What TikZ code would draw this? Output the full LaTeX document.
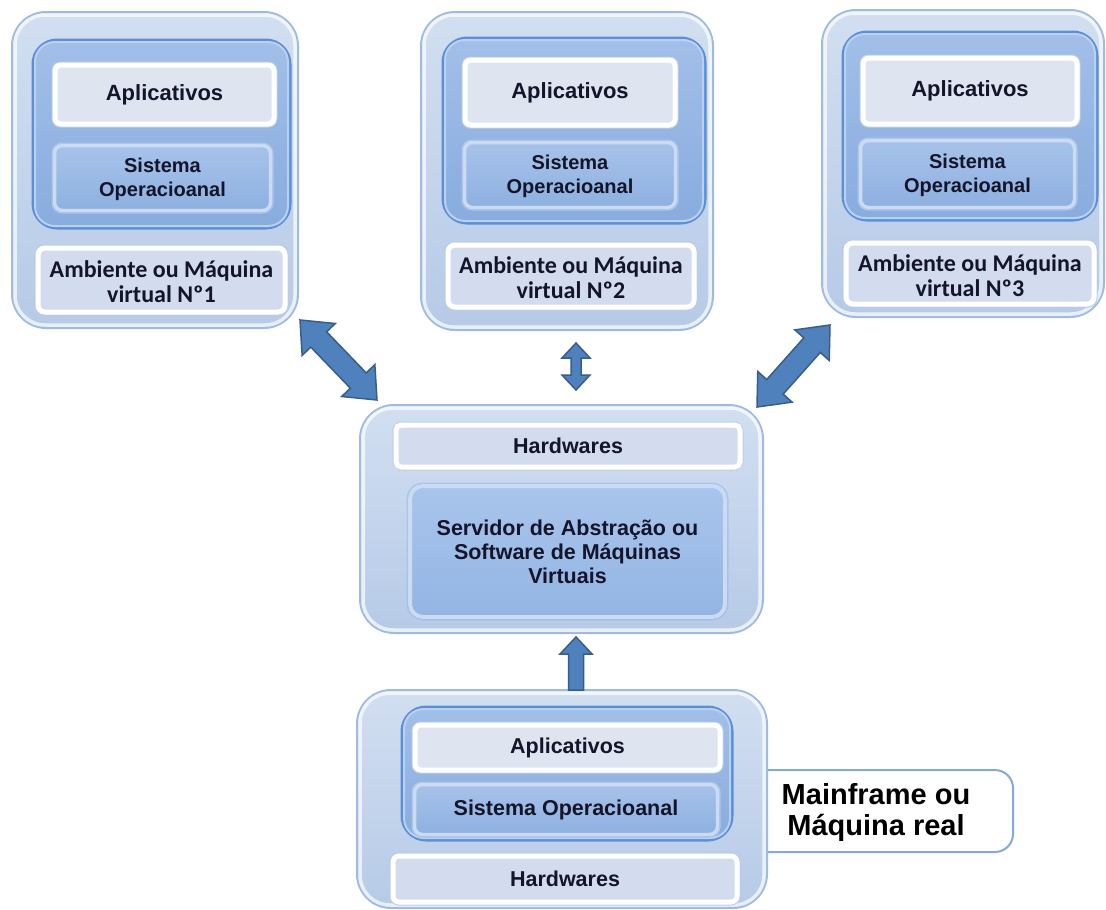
\documentclass[tikz,border=0pt]{standalone}
\usepackage{fontspec}
\setmainfont{Liberation Sans}
\newfontfamily\ambfamily{Carlito}
\usetikzlibrary{calc}

\definecolor{txt}{HTML}{14142A}
\definecolor{shelledge}{HTML}{9FBBE0}
\definecolor{shelltop}{HTML}{D2DFF1}
\definecolor{shellbot}{HTML}{B6CAE7}
\definecolor{coreedge}{HTML}{5B8FD7}
\definecolor{coretop}{HTML}{A2BFE8}
\definecolor{corebot}{HTML}{88ACDF}
\definecolor{corehi}{HTML}{B9D0F0}
\definecolor{appedge}{HTML}{B9CBE5}
\definecolor{appfill}{HTML}{DEE5F0}
\definecolor{soedge}{HTML}{AFC6EA}
\definecolor{sotop}{HTML}{A8C3EA}
\definecolor{sobot}{HTML}{8DB0E0}
\definecolor{sohi}{HTML}{CADBF2}
\definecolor{ambfill}{HTML}{D2DCEE}
\definecolor{srvtop}{HTML}{A9C5EC}
\definecolor{srvbot}{HTML}{93B5E3}
\definecolor{arrowfill}{HTML}{4F81BD}
\definecolor{arrowedge}{HTML}{385D8A}
\definecolor{calloutedge}{HTML}{86A9D9}

\newcommand\appfont{\fontsize{22}{24}\selectfont\bfseries}
\newcommand\sofont{\fontsize{20}{24}\selectfont\bfseries}
\newcommand\rowfont{\fontsize{21.5}{24}\selectfont\bfseries}
\newcommand\ambfont{\ambfamily\fontsize{24}{25}\selectfont\bfseries}
\newcommand\calloutfont{\fontsize{29}{31}\selectfont\bfseries}

% light inner rim of a rounded panel
\newcommand\rim[4]{%
  \draw[#4, rounded corners=#3]
    ([shift={(#2,#2)}]#1.north west) rectangle ([shift={(-#2,-#2)}]#1.south east);}

% block arrow with a head at both ends: from, to, shaft half width, head half width, head length
\newcommand\dblarrow[5]{%
  \filldraw[blockarrow] (#1)
    -- ($(#1)!#5!(#2)!#4!90:(#2)$) -- ($(#1)!#5!(#2)!#3!90:(#2)$)
    -- ($(#2)!#5!(#1)!#3!-90:(#1)$) -- ($(#2)!#5!(#1)!#4!-90:(#1)$)
    -- (#2)
    -- ($(#2)!#5!(#1)!#4!90:(#1)$) -- ($(#2)!#5!(#1)!#3!90:(#1)$)
    -- ($(#1)!#5!(#2)!#3!-90:(#2)$) -- ($(#1)!#5!(#2)!#4!-90:(#2)$)
    -- cycle;}

% block arrow with a single head: base, tip, shaft half width, head half width, head length
\newcommand\onearrow[5]{%
  \filldraw[blockarrow] ($(#1)!#3!90:(#2)$)
    -- ($(#2)!#5!(#1)!#3!-90:(#1)$) -- ($(#2)!#5!(#1)!#4!-90:(#1)$)
    -- (#2)
    -- ($(#2)!#5!(#1)!#4!90:(#1)$) -- ($(#2)!#5!(#1)!#3!90:(#1)$)
    -- ($(#1)!#3!-90:(#2)$) -- cycle;}

\begin{document}
\begin{tikzpicture}[x=1pt, y=-1pt,
  every node/.style={inner sep=0pt, align=center, text=txt},
  shell/.style={draw=shelledge, line width=2pt, rounded corners=34pt,
    top color=shelltop, bottom color=shellbot},
  shellrim/.style={draw=white, draw opacity=.7, line width=3.5pt},
  core/.style={draw=coreedge, line width=3pt, rounded corners=24pt,
    top color=coretop, bottom color=corebot},
  corerim/.style={draw=corehi, line width=2pt},
  app/.style={draw=appedge, line width=1pt, rounded corners=8pt, fill=appfill},
  apprim/.style={draw=white, line width=5pt},
  osbox/.style={draw=soedge, line width=1pt, rounded corners=10pt,
    top color=sotop, bottom color=sobot},
  osrim/.style={draw=sohi, line width=3.5pt},
  amb/.style={draw=appedge, line width=1pt, rounded corners=9pt, fill=ambfill},
  srv/.style={draw=soedge, line width=1pt, rounded corners=16pt,
    top color=srvtop, bottom color=srvbot},
  srvrim/.style={draw=sohi, line width=4pt},
  callout/.style={draw=calloutedge, line width=2pt, rounded corners=18pt, fill=white},
  blockarrow/.style={fill=arrowfill, draw=arrowedge, line width=1.5pt, line join=miter}
]
\useasboundingbox (0,0) rectangle (1106,910);
\fill[white] (0,0) rectangle (1106,910);

% ---------- virtual machine 1 ----------
\node[shell, minimum width=286pt, minimum height=316pt] (vm1) at (155,170) {};
\rim{vm1}{4}{30pt}{shellrim}
\node[core, minimum width=257pt, minimum height=188pt] (vm1core) at (161.5,134) {};
\rim{vm1core}{3.5}{20pt}{corerim}
\node[app, minimum width=225pt, minimum height=65pt] (vm1app) at (164.5,94.5) {};
\rim{vm1app}{3.5}{6pt}{apprim}
\node[font=\appfont] at (vm1app) {Aplicativos};
\node[osbox, minimum width=221pt, minimum height=70pt] (vm1os) at (162.5,178) {};
\rim{vm1os}{3}{8pt}{osrim}
\node[font=\sofont] at ([yshift=-1pt]vm1os.center) {Sistema\\Operacioanal};
\node[amb, minimum width=253pt, minimum height=70pt] (vm1env) at (161.5,280) {};
\rim{vm1env}{3.5}{7pt}{apprim}
\node[font=\ambfont] at ([yshift=-2pt]vm1env.center) {Ambiente ou Máquina\\virtual Nº1};

% ---------- virtual machine 2 ----------
\node[shell, minimum width=292pt, minimum height=318pt] (vm2) at (567,171) {};
\rim{vm2}{4}{30pt}{shellrim}
\node[core, minimum width=262pt, minimum height=185pt] (vm2core) at (574,130.5) {};
\rim{vm2core}{3.5}{20pt}{corerim}
\node[app, minimum width=216pt, minimum height=71pt] (vm2app) at (570,92.5) {};
\rim{vm2app}{3.5}{6pt}{apprim}
\node[font=\appfont] at (vm2app) {Aplicativos};
\node[osbox, minimum width=216pt, minimum height=70pt] (vm2os) at (570,175) {};
\rim{vm2os}{3}{8pt}{osrim}
\node[font=\sofont] at ([yshift=-1pt]vm2os.center) {Sistema\\Operacioanal};
\node[amb, minimum width=252pt, minimum height=68pt] (vm2env) at (571,276) {};
\rim{vm2env}{3.5}{7pt}{apprim}
\node[font=\ambfont] at ([yshift=-2pt]vm2env.center) {Ambiente ou Máquina\\virtual Nº2};

% ---------- virtual machine 3 ----------
\node[shell, minimum width=282pt, minimum height=307pt] (vm3) at (963,163.5) {};
\rim{vm3}{4}{30pt}{shellrim}
\node[core, minimum width=254pt, minimum height=188pt] (vm3core) at (970,126) {};
\rim{vm3core}{3.5}{20pt}{corerim}
\node[app, minimum width=220pt, minimum height=72pt] (vm3app) at (970,91) {};
\rim{vm3app}{3.5}{6pt}{apprim}
\node[font=\appfont] at (vm3app) {Aplicativos};
\node[osbox, minimum width=219pt, minimum height=72pt] (vm3os) at (967.5,174) {};
\rim{vm3os}{3}{8pt}{osrim}
\node[font=\sofont] at ([yshift=-1pt]vm3os.center) {Sistema\\Operacioanal};
\node[amb, minimum width=254pt, minimum height=67pt] (vm3env) at (970,273.5) {};
\rim{vm3env}{3.5}{7pt}{apprim}
\node[font=\ambfont] at ([yshift=-2pt]vm3env.center) {Ambiente ou Máquina\\virtual Nº3};

% ---------- hypervisor ----------
\node[shell, minimum width=403pt, minimum height=228pt] (hyp) at (561.5,519) {};
\rim{hyp}{4}{30pt}{shellrim}
\node[amb, minimum width=350pt, minimum height=48pt] (hyphw) at (568,446) {};
\rim{hyphw}{3.5}{5pt}{apprim}
\node[font=\rowfont] at (hyphw) {Hardwares};
\node[srv, minimum width=321pt, minimum height=137pt] (hypsrv) at (567.5,551.5) {};
\rim{hypsrv}{3.5}{13pt}{srvrim}
\node[font=\rowfont] at (hypsrv) {Servidor de Abstração ou\\Software de Máquinas\\Virtuais};

% ---------- real machine ----------
\node[callout, minimum width=273pt, minimum height=82pt] (lbl) at (876.5,811) {};
\node[font=\calloutfont, text=black] at (876,812) {Mainframe ou\\Máquina real};

\node[shell, minimum width=410pt, minimum height=218pt] (real) at (562,799) {};
\rim{real}{4}{30pt}{shellrim}
\node[core, minimum width=330pt, minimum height=133pt] (realcore) at (567,773.5) {};
\rim{realcore}{3.5}{20pt}{corerim}
\node[app, minimum width=311pt, minimum height=51pt] (realapp) at (567.5,747.5) {};
\rim{realapp}{3.5}{6pt}{apprim}
\node[font=\rowfont] at (realapp) {Aplicativos};
\node[osbox, minimum width=308pt, minimum height=55pt] (realos) at (566,809.5) {};
\rim{realos}{3}{8pt}{osrim}
\node[font=\rowfont] at (realos) {Sistema Operacioanal};
\node[amb, minimum width=350pt, minimum height=52pt] (realhw) at (565,879) {};
\rim{realhw}{3.5}{6pt}{apprim}
\node[font=\rowfont] at (realhw) {Hardwares};

% ---------- arrows ----------
\coordinate (a1) at (300,320);
\coordinate (b1) at (377,400);
\coordinate (a2) at (576,343);
\coordinate (b2) at (576,390);
\coordinate (a3) at (830,325);
\coordinate (b3) at (757,407);
\coordinate (a4) at (576,690);
\coordinate (b4) at (576,637);

\dblarrow{a1}{b1}{11pt}{23pt}{27pt}
\dblarrow{a2}{b2}{5pt}{14pt}{15pt}
\dblarrow{a3}{b3}{11pt}{23pt}{27pt}
\onearrow{a4}{b4}{7.5pt}{16pt}{17pt}
\end{tikzpicture}
\end{document}
